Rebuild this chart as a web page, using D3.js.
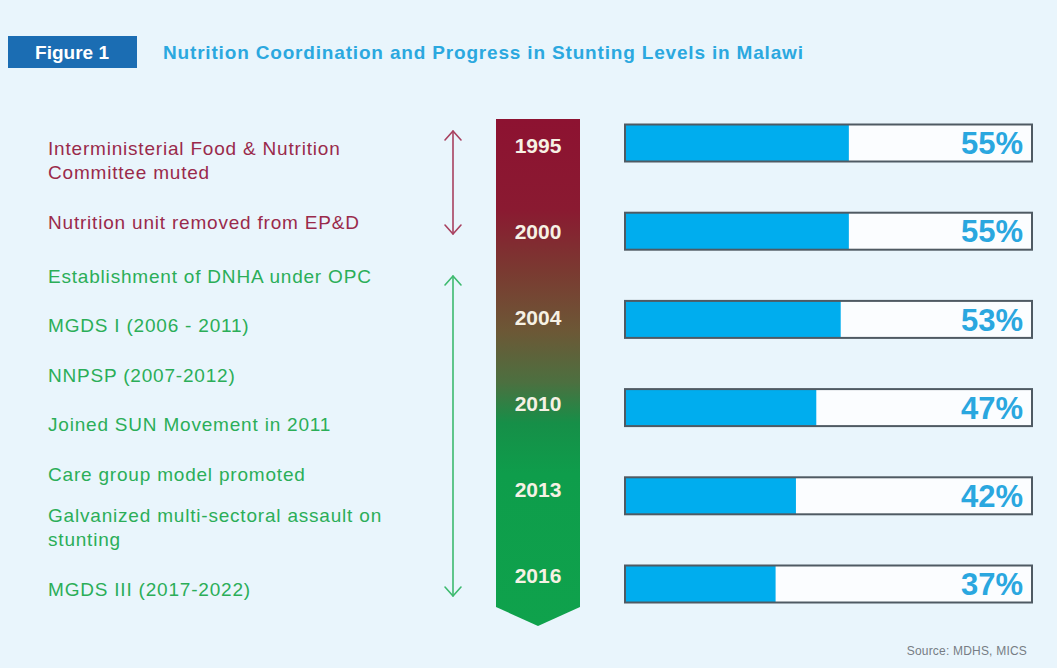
<!DOCTYPE html>
<html>
<head>
<meta charset="utf-8">
<script src="https://cdn.jsdelivr.net/npm/d3@7"></script>
<style>
  html, body { margin: 0; padding: 0; background: #e9f5fc; }
  svg { display: block; }
</style>
</head>
<body>
<svg id="chart" width="1057" height="668"></svg>
<script>
// Survey years and national stunting prevalence (%)
const years = ["1995", "2000", "2004", "2010", "2013", "2016"];
const stunting = [55, 55, 53, 47, 42, 37];

// Policy / coordination milestones, split into two periods
const eventLines = [
  ["Interministerial Food & Nutrition", "Committee muted"],
  ["Nutrition unit removed from EP&D"],
  ["Establishment of DNHA under OPC"],
  ["MGDS I (2006 - 2011)"],
  ["NNPSP (2007-2012)"],
  ["Joined SUN Movement in 2011"],
  ["Care group model promoted"],
  ["Galvanized multi-sectoral assault on", "stunting"],
  ["MGDS III (2017-2022)"]
];
const eventPeriod = ["decline", "decline", "progress", "progress", "progress", "progress", "progress", "progress", "progress"];

const titleText = "Nutrition Coordination and Progress in Stunting Levels in Malawi";
const figureLabel = "Figure 1";
const sourceText = "Source: MDHS, MICS";

const svg = d3.select("#chart");
const W = 1057, H = 668;
const FONT = "'Liberation Sans', Arial, Helvetica, sans-serif";

svg.append("rect").attr("width", W).attr("height", H).attr("fill", "#e9f5fc");

// ---- Header ----
svg.append("rect").attr("x", 8).attr("y", 36).attr("width", 129).attr("height", 32).attr("fill", "#1b6db3");
svg.append("text").attr("x", 72).attr("y", 52).attr("dy", "0.36em").attr("text-anchor", "middle")
  .attr("font-family", FONT).attr("font-weight", "bold").attr("font-size", 19)
  .attr("fill", "#ffffff").text(figureLabel);
svg.append("text").attr("x", 163).attr("y", 52).attr("dy", "0.36em")
  .attr("font-family", FONT).attr("font-weight", "bold").attr("font-size", 19)
  .attr("textLength", 640).attr("lengthAdjust", "spacing")
  .attr("fill", "#2ba8df").text(titleText);

// ---- Rows for years / bars ----
const barRow = d3.scalePoint().domain(years).range([143, 584]);
const yearRow = d3.scalePoint().domain(years).range([145, 575]);
const x = d3.scaleLinear().domain([0, 100]).range([625, 1032]);
const barH = 37;

// ---- Timeline column with red-to-green gradient ----
const colX0 = 496, colX1 = 580, colTop = 119, colBot = 607, tipY = 626;
const defs = svg.append("defs");
const grad = defs.append("linearGradient").attr("id", "timeGrad")
  .attr("gradientUnits", "userSpaceOnUse")
  .attr("x1", 0).attr("y1", colTop).attr("x2", 0).attr("y2", tipY);
[
  [0.00, "#8d1231"],
  [0.18, "#8a1a31"],
  [0.30, "#7a3a31"],
  [0.42, "#6c5836"],
  [0.52, "#4c7040"],
  [0.60, "#168f48"],
  [0.70, "#0e9d4b"],
  [1.00, "#0fa24c"]
].forEach(([o, c]) => grad.append("stop").attr("offset", o).attr("stop-color", c));

const midX = (colX0 + colX1) / 2;
svg.append("path")
  .attr("d", `M${colX0},${colTop}H${colX1}V${colBot}L${midX},${tipY}L${colX0},${colBot}Z`)
  .attr("fill", "url(#timeGrad)");

svg.append("g").selectAll("text").data(years).join("text")
  .attr("x", midX).attr("y", d => yearRow(d))
  .attr("dy", "0.36em").attr("text-anchor", "middle")
  .attr("font-family", FONT).attr("font-weight", "bold").attr("font-size", 21)
  .attr("fill", "#f6f1e4").text(d => d);

// ---- Stunting bars ----
const bars = svg.append("g");
bars.selectAll("rect.frame").data(years).join("rect").attr("class", "frame")
  .attr("x", x(0)).attr("y", d => barRow(d) - barH / 2)
  .attr("width", x(100) - x(0)).attr("height", barH)
  .attr("fill", "#ffffff").attr("fill-opacity", 0.8);
bars.selectAll("rect.val").data(years).join("rect").attr("class", "val")
  .attr("x", x(0)).attr("y", d => barRow(d) - barH / 2)
  .attr("width", (d, i) => x(stunting[i]) - x(0)).attr("height", barH)
  .attr("fill", "#00adee");
bars.selectAll("rect.outline").data(years).join("rect").attr("class", "outline")
  .attr("x", x(0)).attr("y", d => barRow(d) - barH / 2)
  .attr("width", x(100) - x(0)).attr("height", barH)
  .attr("fill", "none").attr("stroke", "#4f5a63").attr("stroke-width", 2);
bars.selectAll("text").data(years).join("text")
  .attr("x", x(100) - 9).attr("y", d => barRow(d))
  .attr("dy", "0.36em").attr("text-anchor", "end")
  .attr("font-family", FONT).attr("font-weight", "bold").attr("font-size", 31)
  .attr("fill", "#2aa7df").text((d, i) => stunting[i] + "%");

// ---- Milestone labels ----
const lineH = 24;
const colors = { decline: "#9a2a4b", progress: "#2bae58" };
const arrowColors = { decline: "#a8405f", progress: "#3dba6e" };

// first-line positions: base gap, extra room after a wrapped item, slight tightening
// before a wrapped item, and a small break where the period changes
const tops = [];
eventLines.forEach((lines, i) => {
  if (i === 0) { tops.push(148); return; }
  const prev = eventLines[i - 1];
  let gap = 49.5 + 24.5 * (prev.length - 1) - 8.5 * (lines.length - 1);
  if (eventPeriod[i] !== eventPeriod[i - 1]) gap += 4.5;
  tops.push(tops[i - 1] + gap);
});

const ev = svg.append("g");
eventLines.forEach((lines, i) => {
  const t = ev.append("text")
    .attr("font-family", FONT).attr("font-size", 19).attr("letter-spacing", 0.8)
    .attr("fill", colors[eventPeriod[i]]);
  lines.forEach((ln, j) => {
    t.append("tspan").attr("x", 48).attr("y", tops[i] + j * lineH).attr("dy", "0.36em").text(ln);
  });
});

// ---- Period arrows ----
const arrowX = 453;
function doubleArrow(y0, y1, color) {
  const g = svg.append("g").attr("stroke", color).attr("stroke-width", 1.6)
    .attr("fill", "none").attr("stroke-linecap", "round").attr("stroke-linejoin", "round");
  g.append("line").attr("x1", arrowX).attr("x2", arrowX).attr("y1", y0).attr("y2", y1);
  g.append("path").attr("d", `M${arrowX - 8},${y0 + 9}L${arrowX},${y0}L${arrowX + 8},${y0 + 9}`);
  g.append("path").attr("d", `M${arrowX - 8},${y1 - 9}L${arrowX},${y1}L${arrowX + 8},${y1 - 9}`);
}
["decline", "progress"].forEach(p => {
  const idx = eventPeriod.map((d, i) => d === p ? i : -1).filter(i => i >= 0);
  const first = idx[0], last = idx[idx.length - 1];
  const firstTop = tops[first];
  const lastBot = tops[last] + (eventLines[last].length - 1) * lineH;
  const pad = p === "decline" ? [-17, 12] : [0, 7];
  doubleArrow(firstTop + pad[0], lastBot + pad[1], arrowColors[p]);
});

// ---- Source note ----
svg.append("text").attr("x", 1027).attr("y", 655).attr("text-anchor", "end")
  .attr("font-family", FONT).attr("font-size", 12).attr("letter-spacing", 0.2).attr("fill", "#777d84")
  .text(sourceText);
</script>
</body>
</html>
